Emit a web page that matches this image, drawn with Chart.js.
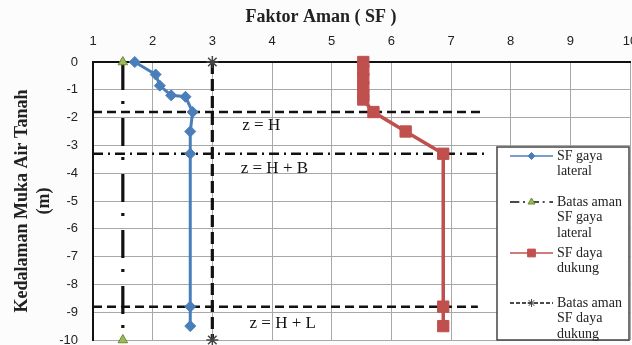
<!DOCTYPE html>
<html>
<head>
<meta charset="utf-8">
<script src="https://cdn.jsdelivr.net/npm/chart.js@4/dist/chart.umd.min.js"></script>
<style>
  html, body { margin: 0; padding: 0; background: #fcfcfc; }
  #wrap { width: 632px; height: 345px; }
</style>
</head>
<body>
<div id="wrap"><canvas id="c" width="632" height="345"></canvas></div>
<script>
// Safety factor (SF) against groundwater depth
const sfTicks = [1, 2, 3, 4, 5, 6, 7, 8, 9, 10];
const depthTicks = [0, -1, -2, -3, -4, -5, -6, -7, -8, -9, -10];

const lateralSF    = [1.70, 2.05, 2.12, 2.31, 2.55, 2.67, 2.63, 2.63, 2.63, 2.63];
const lateralDepth = [0, -0.45, -0.85, -1.2, -1.25, -1.8, -2.5, -3.3, -8.8, -9.5];

const bearingSF    = [5.53, 5.53, 5.53, 5.53, 5.53, 5.53, 5.70, 6.24, 6.87, 6.87, 6.87];
const bearingDepth = [0, -0.3, -0.6, -0.9, -1.2, -1.35, -1.8, -2.5, -3.3, -8.8, -9.5];

const lateralLimitSF = [1.5, 1.5];
const bearingLimitSF = [3, 3];
const limitDepth = [0, -10];

const zLabels = ['z = H', 'z = H + B', 'z = H + L'];
const zDepth  = [-1.8, -3.3, -8.8];
const zLineSF = [[1, 7.57], [1, 7.57], [1, 7.45]];

const legendLabels = [
  ['SF gaya', 'lateral'],
  ['Batas aman', 'SF gaya', 'lateral'],
  ['SF daya', 'dukung'],
  ['Batas aman', 'SF daya', 'dukung']
];

const pts = (xs, ys) => xs.map((x, i) => ({ x: x, y: ys[i] }));

const datasets = [
  {
    label: 'SF gaya lateral',
    data: pts(lateralSF, lateralDepth),
    borderColor: '#4a7ebb', backgroundColor: '#4a7ebb',
    borderWidth: 3, pointStyle: 'rectRot', pointRadius: 5.5, pointBorderWidth: 1
  },
  {
    label: 'Batas aman SF gaya lateral',
    data: pts(lateralLimitSF, limitDepth),
    borderColor: '#111', borderWidth: 3.2, borderDash: [28, 11, 3, 14],
    pointStyle: 'triangle', pointRadius: 5.5, pointBorderWidth: 1,
    pointBackgroundColor: '#9bbb59', pointBorderColor: '#6d8a35'
  },
  {
    label: 'SF daya dukung',
    data: pts(bearingSF, bearingDepth),
    borderColor: '#c0504d', backgroundColor: '#c0504d',
    borderWidth: 3.5, pointStyle: 'rect', pointRadius: 8, pointBorderWidth: 1
  },
  {
    label: 'Batas aman SF daya dukung',
    data: pts(bearingLimitSF, limitDepth),
    borderColor: '#111', borderWidth: 3.2, borderDash: [12, 5],
    pointStyle: 'star', pointRadius: 6, pointBorderWidth: 1.5,
    pointBorderColor: '#444', pointBackgroundColor: '#444'
  }
];

// Reference depths z = H, z = H + B, z = H + L
const zDashes = [[9, 5], [10, 5, 2, 5], [9, 5]];
zDepth.forEach((d, i) => {
  datasets.push({
    label: zLabels[i],
    data: pts(zLineSF[i], [d, d]),
    borderColor: '#111', borderWidth: 2.5, borderDash: zDashes[i],
    pointRadius: 0, isGuide: true
  });
});
datasets.forEach(ds => { ds.showLine = true; ds.clip = false; });

const bgPlugin = {
  id: 'bg',
  beforeDraw(chart) {
    const { ctx, chartArea: a } = chart;
    ctx.save();
    ctx.fillStyle = '#fcfcfc';
    ctx.fillRect(0, 0, chart.width, chart.height);
    ctx.fillStyle = '#ffffff';
    ctx.fillRect(a.left, a.top, a.right - a.left, a.bottom - a.top);
    ctx.restore();
  }
};

// Text labels of the reference depths
const zLabelPlugin = {
  id: 'zLabels',
  afterDatasetsDraw(chart, args, opts) {
    const { ctx, scales: { x, y } } = chart;
    ctx.save();
    ctx.font = '17px "Liberation Serif"';
    ctx.fillStyle = '#111';
    ctx.textAlign = 'center';
    ctx.textBaseline = 'middle';
    opts.at.forEach((p, i) => {
      ctx.fillText(zLabels[i], x.getPixelForValue(p[0]), y.getPixelForValue(p[1]));
    });
    ctx.restore();
  }
};

// Boxed legend inside the plot, right side
const boxLegend = {
  id: 'boxLegend',
  afterDraw(chart, args, o) {
    const { ctx } = chart;
    ctx.save();
    ctx.fillStyle = '#ffffff';
    ctx.fillRect(o.left, o.top, o.width, o.height);
    ctx.strokeStyle = '#444';
    ctx.lineWidth = 1.5;
    ctx.strokeRect(o.left, o.top, o.width, o.height);
    const series = chart.data.datasets.filter(ds => !ds.isGuide);
    series.forEach((ds, i) => {
      const yy = o.rows[i];
      const x0 = o.left + 13, x1 = o.left + 56, xm = (x0 + x1) / 2;
      ctx.save();
      ctx.strokeStyle = ds.borderColor;
      ctx.lineWidth = 1.5;
      ctx.setLineDash(ds.borderDash ? ds.borderDash.map(v => Math.max(2, v / 3)) : []);
      ctx.beginPath();
      ctx.moveTo(x0, yy);
      ctx.lineTo(x1, yy);
      ctx.stroke();
      ctx.restore();
      ctx.save();
      ctx.fillStyle = ds.pointBackgroundColor || ds.backgroundColor || ds.borderColor;
      ctx.strokeStyle = ds.pointBorderColor || ds.borderColor;
      ctx.lineWidth = 1;
      Chart.helpers.drawPoint(ctx, {
        pointStyle: ds.pointStyle, rotation: 0,
        radius: o.markerRadius[i], borderWidth: 1
      }, xm, yy);
      ctx.restore();
      ctx.font = '14px "Liberation Serif"';
      ctx.fillStyle = '#222';
      ctx.textAlign = 'left';
      ctx.textBaseline = 'middle';
      legendLabels[i].forEach((t, k) => ctx.fillText(t, o.left + 60, yy + k * 15.5));
    });
    ctx.restore();
  }
};

const tickFont = { family: '"Liberation Sans", Arial, sans-serif', size: 13 };
const noEdgePadding = s => { s.paddingLeft = 0; s.paddingRight = 0; s.paddingTop = 0; s.paddingBottom = 0; };

new Chart(document.getElementById('c'), {
  type: 'scatter',
  data: { datasets: datasets },
  plugins: [bgPlugin, zLabelPlugin, boxLegend],
  options: {
    responsive: false,
    animation: false,
    devicePixelRatio: 1,
    layout: { autoPadding: false, padding: { left: 12, right: 2, top: 0, bottom: 5 } },
    plugins: {
      legend: { display: false },
      tooltip: { enabled: false },
      title: {
        display: true,
        text: 'Faktor Aman ( SF )',
        color: '#222',
        font: { family: '"Liberation Serif", serif', size: 18, weight: 'bold', lineHeight: 1.2 },
        padding: { top: 7, bottom: 0 }
      },
      zLabels: { at: [[3.82, -2.3], [4.04, -3.82], [4.18, -9.42]] },
      boxLegend: {
        left: 497, top: 147, width: 132, height: 193,
        rows: [156, 202, 253, 303],
        markerRadius: [3.5, 4, 5.5, 4]
      }
    },
    scales: {
      x: {
        type: 'linear', position: 'top',
        min: sfTicks[0], max: sfTicks[sfTicks.length - 1],
        afterBuildTicks: s => { s.ticks = sfTicks.map(v => ({ value: v })); },
        ticks: { padding: 13, color: '#222', font: tickFont, maxRotation: 0 },
        grid: { color: '#a8a8a8', lineWidth: 1, drawTicks: false },
        border: { color: '#111', width: 2 },
        afterFit: s => { s.height = 62 - 28.6; noEdgePadding(s); }
      },
      y: {
        type: 'linear',
        min: depthTicks[depthTicks.length - 1], max: depthTicks[0],
        afterBuildTicks: s => { s.ticks = depthTicks.map(v => ({ value: v })); },
        ticks: { padding: 15, color: '#222', font: tickFont },
        grid: { color: '#a8a8a8', lineWidth: 1, drawTicks: false },
        border: { color: '#111', width: 2 },
        title: {
          display: true,
          text: ['Kedalaman Muka Air Tanah', '(m)'],
          color: '#222',
          font: { family: '"Liberation Serif", serif', size: 18, weight: 'bold', lineHeight: 1.2 },
          padding: { top: 0, bottom: 0 }
        },
        afterFit: s => { s.width = 93 - 12; noEdgePadding(s); }
      }
    }
  }
});
</script>
</body>
</html>
